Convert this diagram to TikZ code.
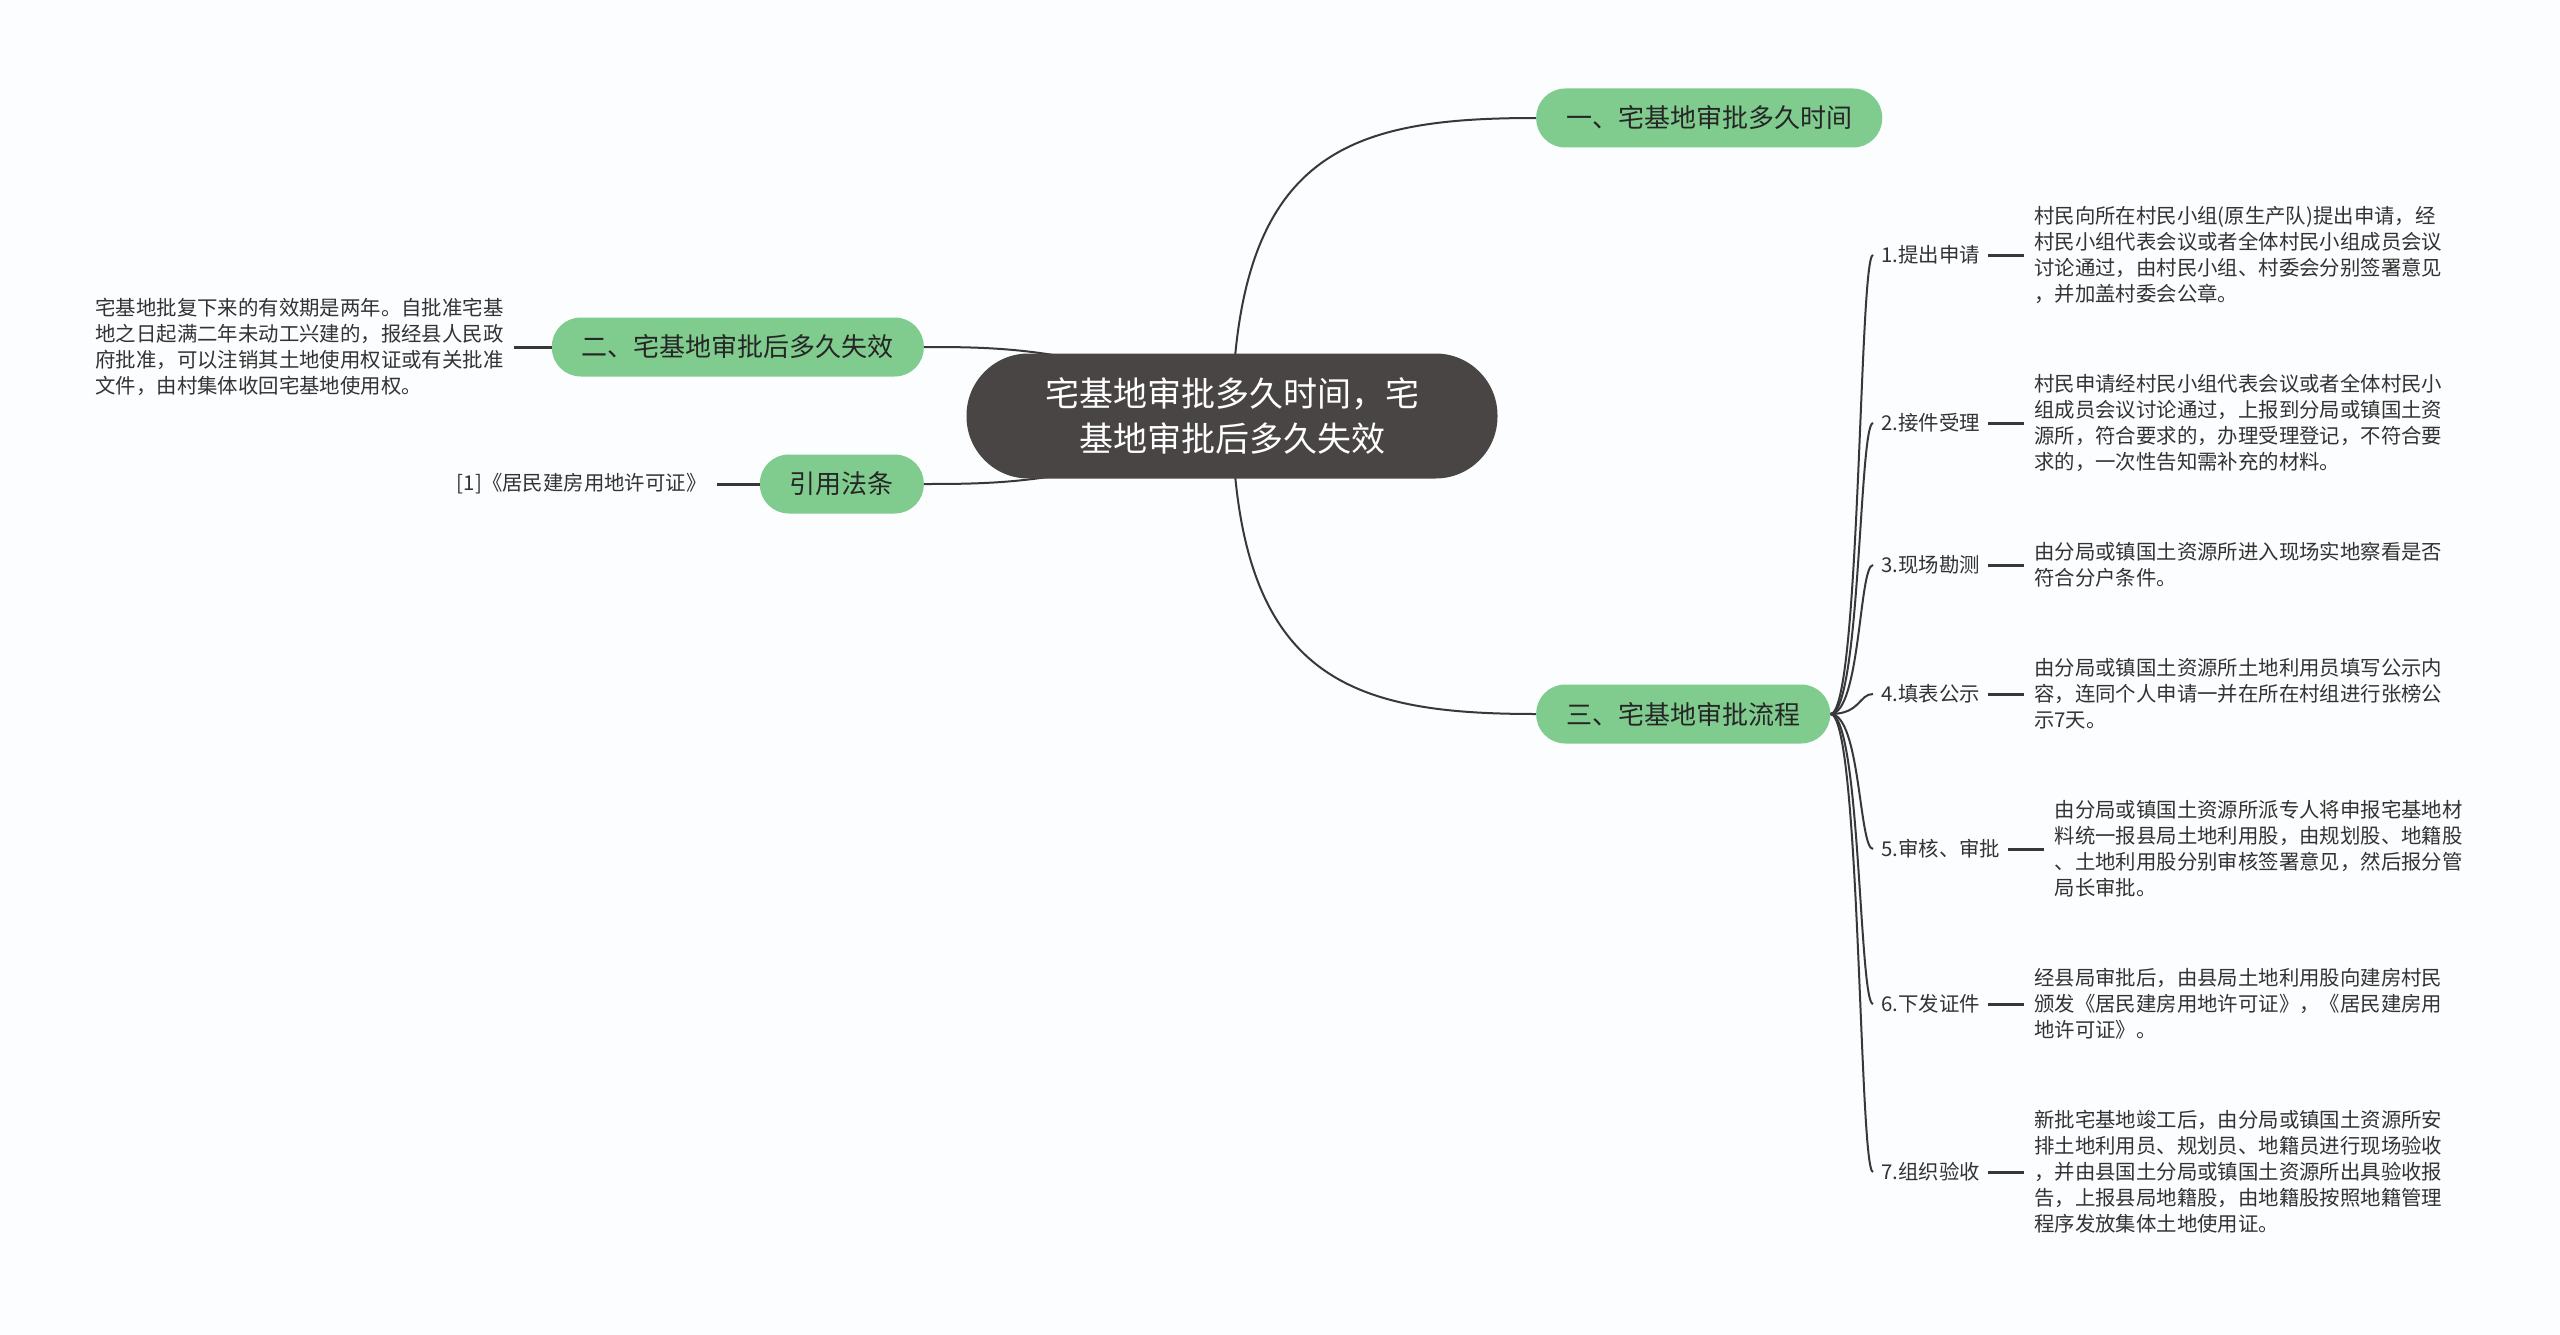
\documentclass[tikz,border=0pt]{standalone}
\usepackage{fontspec}
\setmainfont{Noto Sans CJK SC}
\usetikzlibrary{positioning}
\definecolor{rootgray}{HTML}{4A4545}
\definecolor{leafgreen}{HTML}{80CC8F}
\definecolor{wire}{HTML}{383838}
\definecolor{paper}{HTML}{FBFDFE}
\pgfdeclarelayer{paper}
\pgfdeclarelayer{wires}
\pgfsetlayers{paper,wires,main}
\tikzset{
    topic/.style={fill=rootgray, text=white, rounded corners=62pt, minimum width=531pt,
        minimum height=125pt, align=center, font=\fontsize{34}{45}\selectfont},
    branch/.style={fill=leafgreen, text=black!85, rounded corners=29pt, minimum height=59pt,
        inner xsep=30pt, font=\fontsize{26}{30}\selectfont},
    stepname/.style={inner sep=8pt, text=black!80, font=\fontsize{20.4}{26}\selectfont},
    detail/.style={inner sep=10pt, align=left, text=black!80, font=\fontsize{20.4}{26}\selectfont},
    curve/.style={draw=wire, line width=2pt},
    stub/.style={draw=wire, line width=3pt},
}

\begin{document}
\begin{tikzpicture}[x=1pt, y=-1pt]
    \begin{pgfonlayer}{paper}
        \fill[paper] (0,0) rectangle (2560,1335);
    \end{pgfonlayer}
    \useasboundingbox (0,0) rectangle (2560,1335);

    \node[topic] (root) at (1232,416) {宅基地审批多久时间，宅\\基地审批后多久失效};
    \node[branch, anchor=west] (time) at (1536,118) {一、宅基地审批多久时间};
    \node[branch, anchor=east] (expire) at (924,347) {二、宅基地审批后多久失效};
    \node[branch, anchor=east] (law) at (924,484) {引用法条};
    \node[branch, anchor=west] (flow) at (1536,714) {三、宅基地审批流程};

    \node[detail, left=38pt of expire] (expiretext) {宅基地批复下来的有效期是两年。自批准宅基\\地之日起满二年未动工兴建的，报经县人民政\\府批准，可以注销其土地使用权证或有关批准\\文件，由村集体收回宅基地使用权。};
    \node[detail, left=43pt of law] (lawtext) {[1]《居民建房用地许可证》};
    \draw[stub] (expiretext) -- (expire);
    \draw[stub] (lawtext) -- (law);

    \begin{pgfonlayer}{wires}
        \draw[curve] (root.center) .. controls +(4,-266) and +(-186,0) .. (time.west);
        \draw[curve] (root.center) .. controls +(4,264) and +(-186,0) .. (flow.west);
        \draw[curve] (root.center) .. controls +(-132,-69) and +(76,0) .. (expire.east);
        \draw[curve] (root.center) .. controls +(-132,68) and +(76,0) .. (law.east);
    \end{pgfonlayer}

    \foreach \i/\y/\name/\txt in {
        1/255/{1.提出申请}/{村民向所在村民小组(原生产队)提出申请，经\\村民小组代表会议或者全体村民小组成员会议\\讨论通过，由村民小组、村委会分别签署意见\\，并加盖村委会公章。},
        2/423/{2.接件受理}/{村民申请经村民小组代表会议或者全体村民小\\组成员会议讨论通过，上报到分局或镇国土资\\源所，符合要求的，办理受理登记，不符合要\\求的，一次性告知需补充的材料。},
        3/565/{3.现场勘测}/{由分局或镇国土资源所进入现场实地察看是否\\符合分户条件。},
        4/694/{4.填表公示}/{由分局或镇国土资源所土地利用员填写公示内\\容，连同个人申请一并在所在村组进行张榜公\\示7天。},
        5/849/{5.审核、审批}/{由分局或镇国土资源所派专人将申报宅基地材\\料统一报县局土地利用股，由规划股、地籍股\\、土地利用股分别审核签署意见，然后报分管\\局长审批。},
        6/1004/{6.下发证件}/{经县局审批后，由县局土地利用股向建房村民\\颁发《居民建房用地许可证》，《居民建房用\\地许可证》。},
        7/1172/{7.组织验收}/{新批宅基地竣工后，由分局或镇国土资源所安\\排土地利用员、规划员、地籍员进行现场验收\\，并由县国土分局或镇国土资源所出具验收报\\告，上报县局地籍股，由地籍股按照地籍管理\\程序发放集体土地使用证。}} {
        \node[stepname, anchor=west] (s\i) at (1873,\y) {\name};
        \node[detail, right=36pt of s\i] (d\i) {\txt};
        \begin{pgfonlayer}{wires}
            \draw[curve] (flow.east) .. controls +(30,0) and +(-14,0) .. (s\i.west);
        \end{pgfonlayer}
        \draw[stub] (s\i) -- (d\i);
    }
\end{tikzpicture}
\end{document}
